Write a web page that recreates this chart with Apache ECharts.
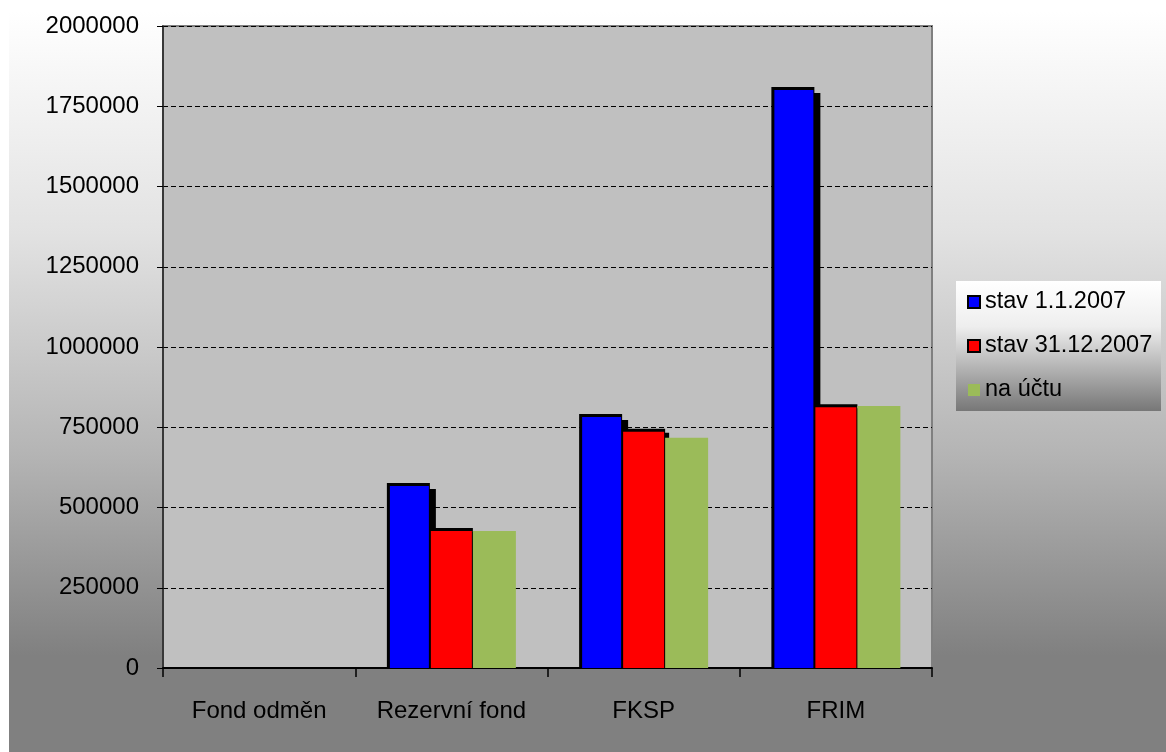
<!DOCTYPE html>
<html>
<head>
<meta charset="utf-8">
<script src="https://cdn.jsdelivr.net/npm/echarts@6/dist/echarts.min.js"></script>
<style>
html,body{margin:0;padding:0;background:#ffffff;}
#bg{position:absolute;left:9px;top:11px;width:1157px;height:741px;
background:linear-gradient(to bottom,#ffffff 0%,#e2e2e2 30%,#b4b4b4 60%,#808080 87%,#808080 100%);}
#chart{position:absolute;left:0;top:0;width:1166px;height:752px;}
</style>
</head>
<body>
<div id="bg"></div>
<div id="chart"></div>
<script>
const categories = ['Fond odměn', 'Rezervní fond', 'FKSP', 'FRIM'];
const seriesNames = ['stav 1.1.2007', 'stav 31.12.2007', 'na účtu'];
const stavStart = [0, 576000, 791000, 1810000];
const stavEnd = [0, 436000, 745000, 822000];
const naUctu = [0, 427000, 717000, 816000];
const yTicks = [0, 250000, 500000, 750000, 1000000, 1250000, 1500000, 1750000, 2000000];

const colors = ['#0000ff', '#ff0000', '#9bbb59'];
// per-series look: [left border, top border, right border, shadow offset]
const looks = [
  {bl: 3, bt: 3, br: 1, sh: 6},
  {bl: 1, bt: 3, br: 1, sh: 4},
  {bl: 0, bt: 0, br: 0, sh: 0}
];
const BAR_W = 43;

function makeRender(si) {
  return function (params, api) {
    const idx = api.value(0);
    const val = api.value(1);
    if (!val) return null;
    const top = api.coord([idx, val]);
    const base = api.coord([idx, 0]);
    const cx = top[0] + (si - 1) * BAR_W;
    const x0 = cx - BAR_W / 2;
    const y0 = top[1];
    const h = base[1] - y0;
    const lk = looks[si];
    const children = [];
    if (lk.sh) {
      children.push({type: 'rect', shape: {x: x0 + lk.sh, y: y0 + lk.sh, width: BAR_W, height: h - lk.sh},
        style: {fill: '#000'}});
    }
    if (lk.bl || lk.bt || lk.br) {
      children.push({type: 'rect', shape: {x: x0, y: y0, width: BAR_W, height: h}, style: {fill: '#000'}});
    }
    children.push({type: 'rect',
      shape: {x: x0 + lk.bl, y: y0 + lk.bt, width: BAR_W - lk.bl - lk.br, height: h - lk.bt},
      style: {fill: colors[si]}});
    return {type: 'group', children: children};
  };
}

const chart = echarts.init(document.getElementById('chart'), null, {renderer: 'canvas'});
const seriesData = [stavStart, stavEnd, naUctu];
chart.setOption({
  backgroundColor: 'transparent',
  animation: false,
  graphic: [{
    type: 'rect', left: 956, top: 281, z: -1,
    shape: {width: 205, height: 130},
    style: {fill: new echarts.graphic.LinearGradient(0, 0, 0, 1, [
      {offset: 0, color: '#ffffff'}, {offset: 0.35, color: '#eeeeee'}, {offset: 1, color: '#777777'}])}
  }],
  grid: {left: 163, top: 26, right: 234, bottom: 84, show: true,
    backgroundColor: '#c0c0c0', borderColor: '#808080', borderWidth: 2},
  legend: {
    orient: 'vertical', left: 967, top: 290, padding: 0, itemWidth: 12, itemHeight: 12, itemGap: 20,
    icon: 'rect',
    textStyle: {fontFamily: 'Liberation Sans, Arial', fontSize: 23.5, color: '#000'},
    data: [
      {name: seriesNames[0], itemStyle: {color: colors[0], borderColor: '#000', borderWidth: 2}},
      {name: seriesNames[1], itemStyle: {color: colors[1], borderColor: '#000', borderWidth: 2}},
      {name: seriesNames[2], itemStyle: {color: colors[2], borderWidth: 0}}
    ]
  },
  xAxis: {
    type: 'category', data: categories,
    axisLine: {lineStyle: {color: '#000', width: 2}},
    axisTick: {show: true, interval: 0, length: 9, lineStyle: {color: '#000', width: 1.5}},
    axisLabel: {interval: 0, margin: 31, fontFamily: 'Liberation Sans, Arial', fontSize: 24, color: '#000'},
    splitLine: {show: false}
  },
  yAxis: {
    type: 'value', min: 0, max: 2000000, interval: 250000,
    axisLine: {show: true, lineStyle: {color: '#202020', width: 1.5}},
    axisTick: {show: true, length: 6, lineStyle: {color: '#000', width: 1}},
    axisLabel: {margin: 24, fontFamily: 'Liberation Sans, Arial', fontSize: 24, color: '#000',
      formatter: v => yTicks.indexOf(v) >= 0 ? String(v) : ''},
    splitLine: {show: true, lineStyle: {color: '#000', width: 1, type: [5, 3]}}
  },
  series: seriesNames.map((name, si) => ({
    name: name, type: 'custom', renderItem: makeRender(si), clip: true,
    itemStyle: {color: colors[si]},
    encode: {x: 0, y: 1},
    data: seriesData[si].map((v, i) => [i, v])
  }))
});
</script>
</body>
</html>
